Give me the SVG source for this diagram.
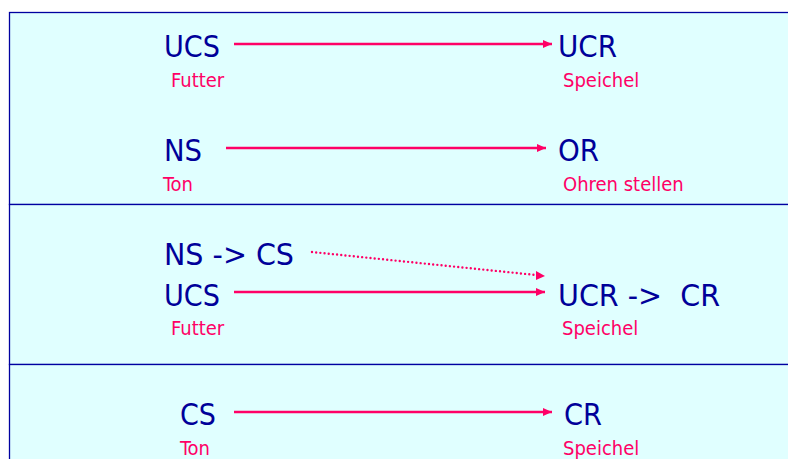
<svg xmlns="http://www.w3.org/2000/svg" width="788" height="459" viewBox="0 0 788 459">
<defs>
<style>
.panel{fill:#E0FFFF;stroke:#0000A0;stroke-width:1.3}
.big{font-family:"DejaVu Sans Condensed","DejaVu Sans",sans-serif;font-size:31px;fill:#000099}
.lab{font-family:"DejaVu Sans Condensed","DejaVu Sans",sans-serif;font-size:20px;fill:#FF0066}
.arr{stroke:#FF0066;stroke-width:2.6;fill:none}
.dot{stroke:#FF0066;stroke-width:2.4;fill:none;stroke-linecap:round;stroke-dasharray:0 4.2}
</style>
<marker id="ah" markerUnits="userSpaceOnUse" markerWidth="10" markerHeight="10" refX="9" refY="5" orient="auto">
<path d="M0,1 L9,5 L0,9 Z" fill="#FF0066"/>
</marker>
</defs>
<g id="panels">
<rect class="panel" x="9.5" y="12.5" width="790" height="192"/>
<rect class="panel" x="9.5" y="204.5" width="790" height="160"/>
<rect class="panel" x="9.5" y="364.5" width="790" height="110"/>
</g>
<g id="connectors">
<line class="arr" x1="234" y1="44" x2="552" y2="44" marker-end="url(#ah)"/>
<line class="arr" x1="226" y1="148" x2="546" y2="148" marker-end="url(#ah)"/>
<line class="dot" x1="312" y1="252" x2="536" y2="275"/>
<path d="M536,271 L545,276 L536,280 Z" fill="#FF0066"/>
<line class="arr" x1="234" y1="292" x2="545" y2="292" marker-end="url(#ah)"/>
<line class="arr" x1="234" y1="412" x2="552" y2="412" marker-end="url(#ah)"/>
</g>
<g id="ucs1"><text class="big" x="164" y="57" textLength="56" lengthAdjust="spacingAndGlyphs">UCS</text><text class="lab" x="171" y="87">Futter</text></g>
<g id="ucr1"><text class="big" x="558" y="57" textLength="59" lengthAdjust="spacingAndGlyphs">UCR</text><text class="lab" x="563" y="87">Speichel</text></g>
<g id="ns1"><text class="big" x="164" y="161" textLength="38" lengthAdjust="spacingAndGlyphs">NS</text><text class="lab" x="163" y="191">Ton</text></g>
<g id="or1"><text class="big" x="558" y="161" textLength="41" lengthAdjust="spacingAndGlyphs">OR</text><text class="lab" x="563" y="191">Ohren stellen</text></g>
<g id="nscs2"><text class="big" x="164" y="265" textLength="130" lengthAdjust="spacingAndGlyphs">NS -&gt; CS</text></g>
<g id="ucs2"><text class="big" x="164" y="306" textLength="56" lengthAdjust="spacingAndGlyphs">UCS</text><text class="lab" x="171" y="335">Futter</text></g>
<g id="ucrcr2"><text class="big" x="558" y="306" textLength="162" lengthAdjust="spacingAndGlyphs" xml:space="preserve">UCR -&gt;  CR</text><text class="lab" x="562" y="335">Speichel</text></g>
<g id="cs3"><text class="big" x="180" y="425" textLength="36" lengthAdjust="spacingAndGlyphs">CS</text><text class="lab" x="180" y="455">Ton</text></g>
<g id="cr3"><text class="big" x="564" y="425" textLength="38" lengthAdjust="spacingAndGlyphs">CR</text><text class="lab" x="563" y="455">Speichel</text></g>
</svg>
